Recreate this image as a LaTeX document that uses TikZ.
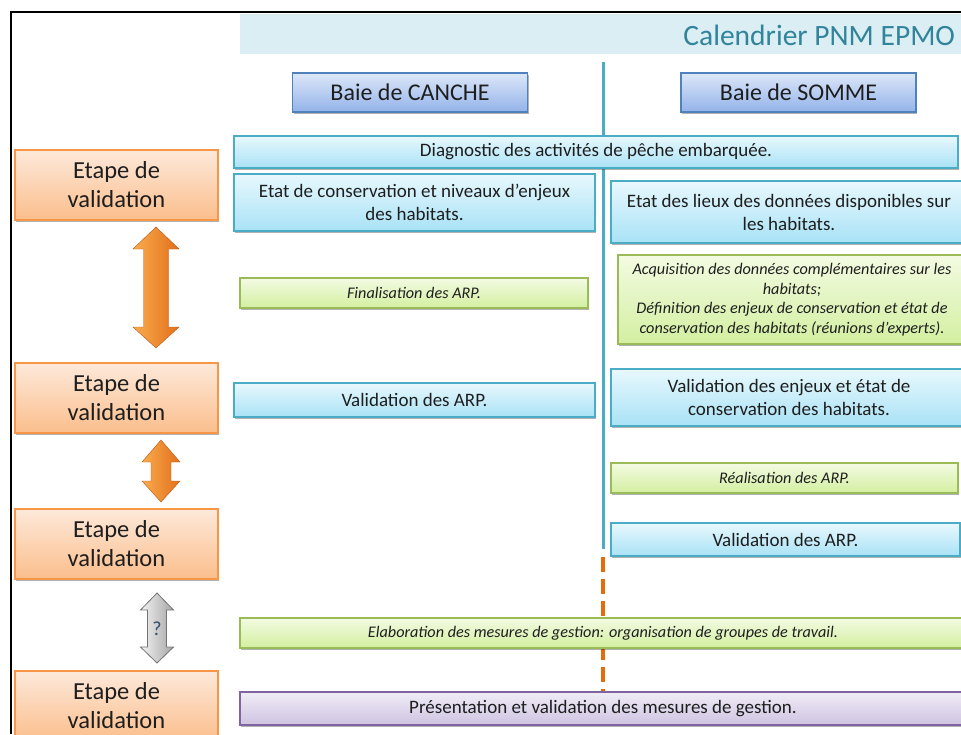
\documentclass[tikz,border=0pt]{standalone}
\usepackage{fontspec}
\setmainfont{Carlito}
\usetikzlibrary{positioning,shadows,calc}

\definecolor{txt}{HTML}{1E1E1E}
\definecolor{titleband}{HTML}{DBEEF4}
\definecolor{titletxt}{HTML}{31849B}
\definecolor{teal}{HTML}{4BACC6}
\definecolor{dashor}{HTML}{E46C0A}
\definecolor{cyantop}{HTML}{E8F8FD}
\definecolor{cyanbot}{HTML}{A9E2F6}
\definecolor{cyanline}{HTML}{4BACC6}
\definecolor{greentop}{HTML}{F3FBE3}
\definecolor{greenbot}{HTML}{D3EFA0}
\definecolor{greenline}{HTML}{9BBB59}
\definecolor{purptop}{HTML}{F0ECF6}
\definecolor{purpbot}{HTML}{CFC3E2}
\definecolor{purpline}{HTML}{8064A2}
\definecolor{bluetop}{HTML}{DDE7F8}
\definecolor{bluebot}{HTML}{93B3EA}
\definecolor{blueline}{HTML}{4F81BD}
\definecolor{ortop}{HTML}{FDE9DA}
\definecolor{orbot}{HTML}{FBBE8C}
\definecolor{orline}{HTML}{F79646}
\definecolor{arrleft}{HTML}{FAAB4E}
\definecolor{arrright}{HTML}{E2701A}

\begin{document}
\begin{tikzpicture}[x=1pt,y=-1pt,
  every node/.style={inner sep=0pt,outer sep=0pt,align=center,text=txt},
  box/.style={rectangle,line width=1.1pt,
    drop shadow={shadow xshift=1.2pt,shadow yshift=-2pt,fill=black,opacity=.3}},
  cyanbox/.style={box,draw=cyanline,top color=cyantop,bottom color=cyanbot,
    font=\fontsize{19}{23}\selectfont},
  greenbox/.style={box,draw=greenline,top color=greentop,bottom color=greenbot,
    font=\fontsize{16.2}{19.5}\selectfont\itshape},
  purplebox/.style={box,draw=purpline,top color=purptop,bottom color=purpbot,
    font=\fontsize{19}{23}\selectfont},
  baiebox/.style={box,draw=blueline,top color=bluetop,bottom color=bluebot,
    minimum width=235,minimum height=39,font=\fontsize{24}{28}\selectfont},
  etape/.style={box,draw=orline,top color=ortop,bottom color=orbot,
    minimum width=203,minimum height=70,font=\fontsize{24.5}{29}\selectfont},
  bigarrow/.style={left color=arrleft,right color=arrright,draw=arrright!80!black,line width=.4pt},
  greyarrow/.style={left color=white!95!black,right color=black!35,draw=black!55,line width=.8pt}]

  \useasboundingbox (0,0) rectangle (961,734);
  \clip (0,0) rectangle (961,734);

  % frame and title
  \draw[line width=2.2pt] (11,734) -- (11,12) -- (961,12);
  \fill[titleband] (240,14) rectangle (961,54);
  \node[anchor=east,text=titletxt,font=\fontsize{29.5}{32}\selectfont] (title) at (955,35) {Calendrier PNM EPMO};

  % time lines
  \coordinate (ltop) at (603,62);
  \coordinate (lbot) at (603,549);
  \coordinate (dtop) at (603,557);
  \coordinate (dbot) at (603,694);
  \draw[teal,line width=3pt] (ltop) -- (lbot);
  \draw[dashor,line width=4pt,dash pattern=on 15pt off 7pt] (dtop) -- (dbot);

  % sites
  \node[baiebox] (canche) at (410,92.5) {Baie de CANCHE};
  \node[baiebox] (somme) at (798.5,92.5) {Baie de SOMME};

  % steps
  \node[cyanbox,minimum width=724,minimum height=32] (diag) at (596,152) {Diagnostic des activités de pêche embarquée.};
  \node[cyanbox,minimum width=361,minimum height=57] (etatC) at (414.5,202.5) {Etat de conservation et niveaux d’enjeux\\des habitats.};
  \node[cyanbox,minimum width=356,minimum height=62] (etatS) at (789,212) {Etat des lieux des données disponibles sur\\les habitats.};
  \node[greenbox,minimum width=348,minimum height=89] (acq) at (792,299.5) {Acquisition des données complémentaires sur les\\habitats;\\Définition des enjeux de conservation et état de\\conservation des habitats (réunions d’experts).};
  \node[greenbox,minimum width=348,minimum height=30] (finalC) at (414,293) {Finalisation des ARP.};
  \node[cyanbox,minimum width=361,minimum height=34] (valC) at (414.5,400) {Validation des ARP.};
  \node[cyanbox,minimum width=356,minimum height=57] (valenj) at (789,397.5) {Validation des enjeux et état de\\conservation des habitats.};
  \node[greenbox,minimum width=347,minimum height=30] (realS) at (784.5,478) {Réalisation des ARP.};
  \node[cyanbox,minimum width=349,minimum height=33] (valS) at (785.5,539.5) {Validation des ARP.};
  \node[greenbox,minimum width=726,minimum height=30] (elab) at (603,633) {Elaboration des mesures de gestion: organisation de groupes de travail.};
  \node[purplebox,minimum width=726,minimum height=33] (pres) at (603,708.5) {Présentation et validation des mesures de gestion.};

  % validation steps
  \node[etape] (val1) at (116.5,185) {Etape de\\validation};
  \node[etape] (val2) at (116.5,398) {Etape de\\validation};
  \node[etape] (val3) at (116.5,544) {Etape de\\validation};
  \node[etape] (val4) at (116.5,706) {Etape de\\validation};

  % arrows between steps
  \draw[bigarrow] (156,227) -- (179,249) -- (168.5,249) -- (168.5,327) -- (179,327) -- (156,348)
    -- (133,327) -- (143.5,327) -- (143.5,249) -- (133,249) -- cycle;
  \draw[bigarrow] (161,440) -- (180,462) -- (171,462) -- (171,481) -- (180,481) -- (161,502)
    -- (142,481) -- (151,481) -- (151,462) -- (142,462) -- cycle;
  \draw[greyarrow] (157,593) -- (173.5,610) -- (166.5,610) -- (166.5,647) -- (173.5,647) -- (157,663)
    -- (140.5,647) -- (147.5,647) -- (147.5,610) -- (140.5,610) -- cycle;
  \node[text=blueline!60!black,font=\fontsize{20}{24}\selectfont] (quest) at (157,629) {?};
\end{tikzpicture}
\end{document}
